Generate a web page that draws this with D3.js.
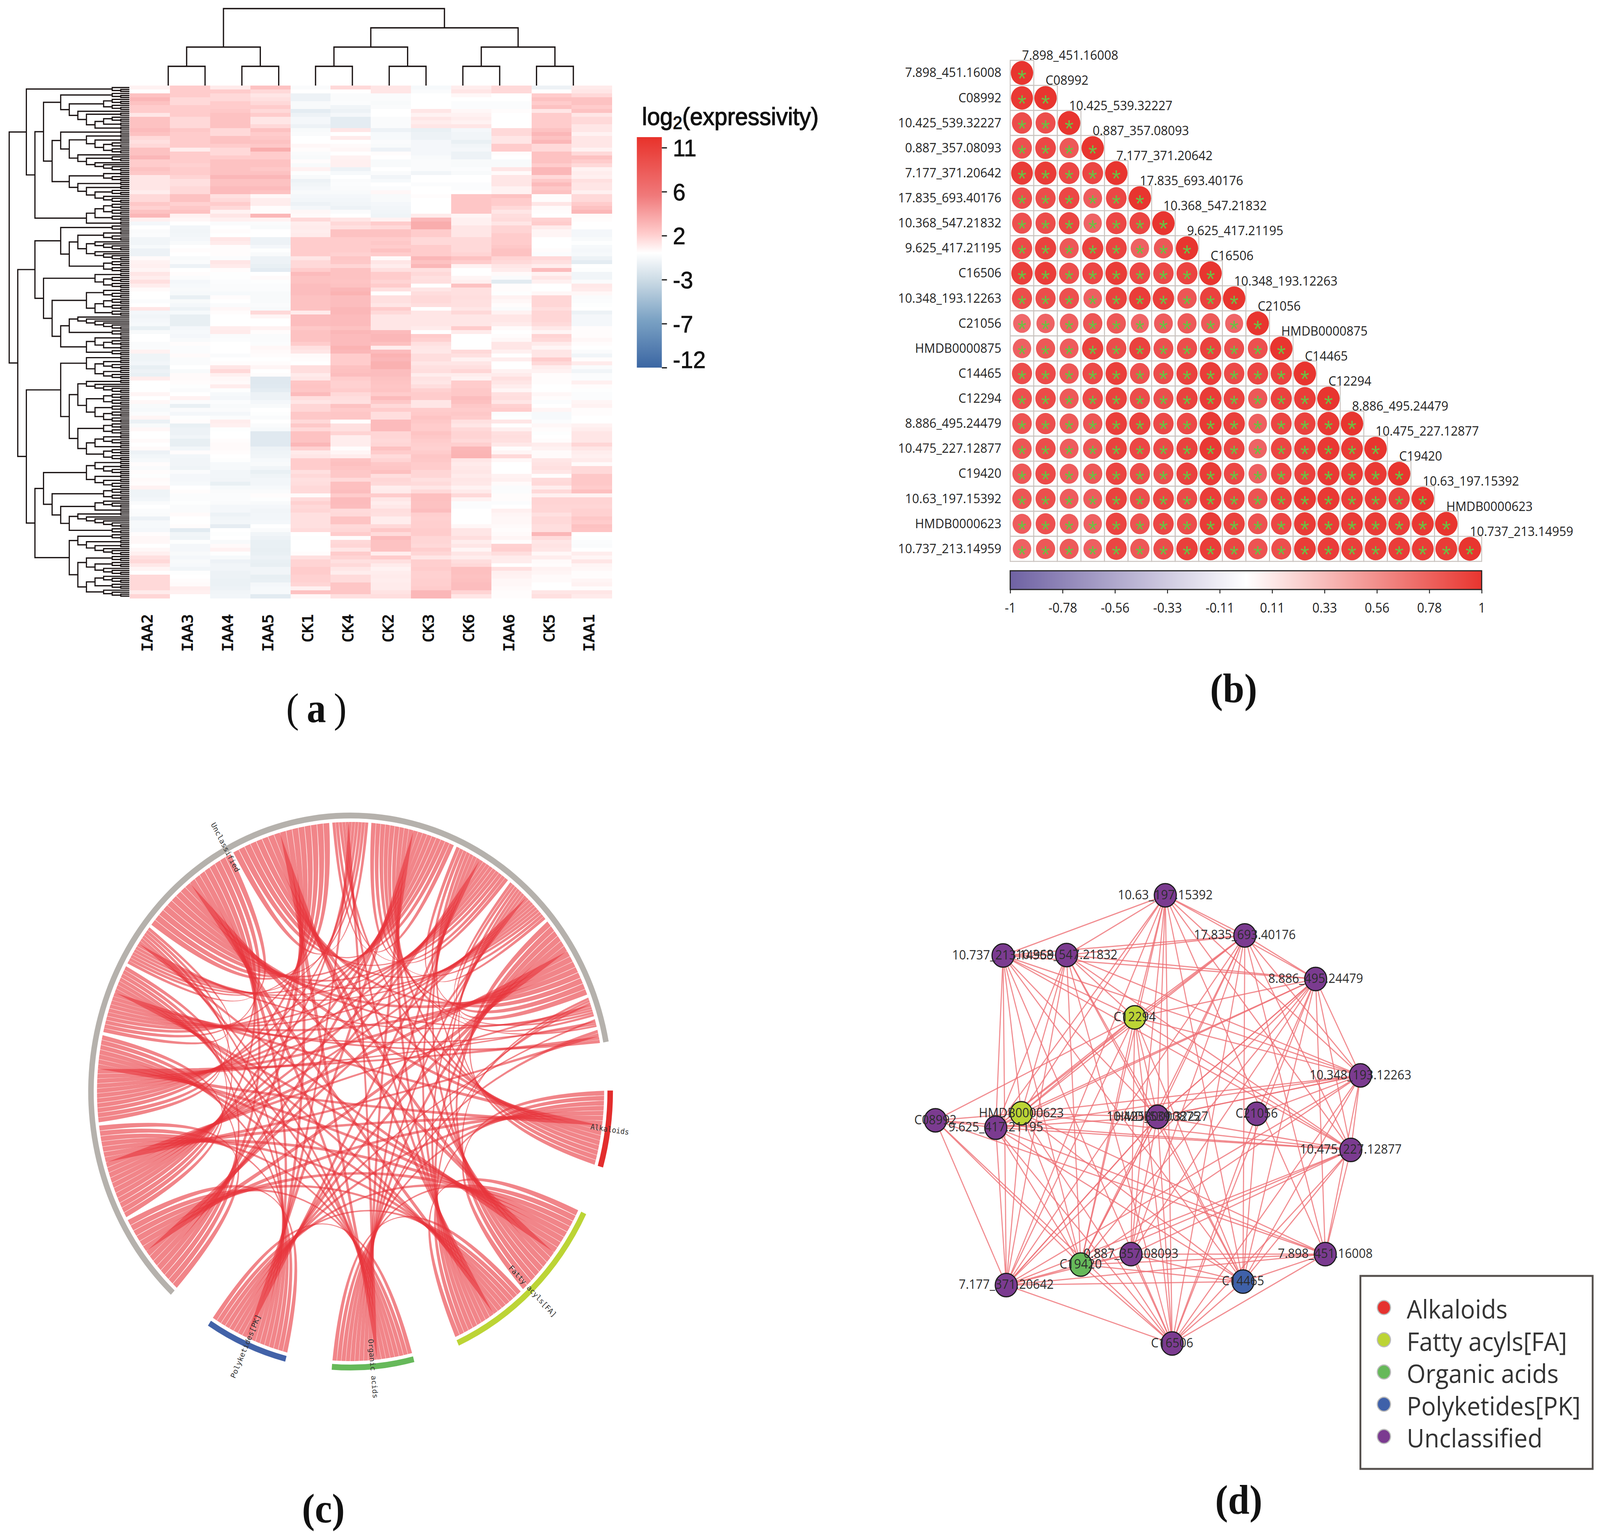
<!DOCTYPE html>
<html>
<head>
<meta charset="utf-8">
<script src="https://cdn.jsdelivr.net/npm/d3@7"></script>
<style>
  html, body { margin: 0; background: #fff; overflow: hidden; }
  svg { display: block; width: 100vw; height: 100vh; }
</style>
</head>
<body>
<svg viewBox="0 0 4354 3942" preserveAspectRatio="none"></svg>
<script>
// (a) heatmap data
var heatColumns = ["IAA2","IAA3","IAA4","IAA5","CK1","CK4","CK2","CK3","CK6","IAA6","CK5","IAA1"];
var heatValues = [
[.5,2,.8,2.5,-.3,1.5,1,-.5,.7,1.5,-1,.8],[0,2,2,1.5,0,0,1,-.3,1,1.5,0,1],[2.5,2,1.5,1,-1,-.3,-.3,0,.3,0,2,1.5],
[3,1.5,1.5,1.2,-1,-.3,-.3,0,0,0,2.5,2.5],[2.5,1.5,2,1.5,-.4,-.2,-.4,0,-.2,-.2,2,2.5],[2,2,2,2,-.4,-.8,-.3,0,-.2,-.2,2.5,2],
[2,2,2.2,1.5,-1.5,-1,0,1,.3,.1,1,2.5],[1,2,2.5,2,-1,-.6,0,.5,.5,0,2,1],[2.5,1.5,2.5,1,-.6,-1.5,-.3,1,.7,0,2,1.5],
[2.5,1.5,2.5,1,-.6,-1.5,-.3,.7,.5,0,2,1.5],[2.5,1.5,2.5,1.5,-1,-1.5,-.3,1,1,0,2,1],[2.8,2.2,1.5,2.5,-.4,1,-1,-1.2,-.6,1.5,2.5,1],
[2.5,2,1.5,2,-.3,0,-.5,-1,-.8,1.5,3,.5],[1.5,2,2.5,2.2,0,.8,-.5,-1,-.8,1,2.5,1],[1.2,2,2.5,2.5,0,0,-.3,-.6,-1.2,1,3,1],
[1.5,2,2,2.2,.3,.2,-.4,-.6,-.8,2,1.5,1],[2.5,.7,1.5,3.5,.1,.3,-1,-.6,-.6,2,1.5,.5],[2.5,2,1.5,2,-.3,0,.1,-.6,-1,.1,2.5,1.5],
[3,2,2,2,-.4,.5,0,-.4,-1,0,2.5,2.5],[2,2,2.5,2.5,.1,.6,-.4,-.3,-.4,-.4,2.5,2],[2,1.8,2.5,2.5,-.4,.6,-.4,-.3,-.4,-.4,2,1.5],
[2.5,2,2.5,2.2,.5,-1,0,-.3,-.2,1,3,.5],[2.2,2,2.5,2.5,-.1,-.5,-.3,-.8,-.4,.2,3,.7],[1,1.7,3,3,-.4,0,-.8,0,0,1,1.5,.6],
[1,1.2,2.5,2.5,-1,-.3,-.5,0,0,1,2.2,1.2],[1,1.2,2.5,2.5,-.8,-.2,0,-.2,-.2,1,2.8,1],[1,1.5,2.8,2.8,-.6,-.3,-.2,0,-.2,.5,2.2,1],
[.7,1.5,2.8,2.5,-.4,-.4,.3,0,0,.5,2.5,.6],[1.5,2.5,1.2,.3,-.6,-.6,-.4,.1,2.3,2.5,.1,1.5],[1.5,2.5,1.5,.7,-.7,-.7,-.4,0,2.3,2,.1,1.5],
[2.2,1.8,2,.7,-1,-.8,-.6,0,2.3,2,1,2],[1.8,2.2,1.5,.1,-.6,-1,-.7,0,2.3,1.5,.2,2.5],[2.5,2.5,.5,.1,.3,-.3,-.8,0,2.3,1,.1,3],
[3,.5,1,3,.2,0,-.9,.8,.4,1.3,0,.2],[.6,.3,.6,.5,1.5,1,.5,3,.6,1.4,1.8,.1],[-.6,0,-.3,-.3,.7,1.5,2,3.5,.6,1,2,0],
[0,-.7,0,-.4,.8,1.2,1.5,3.5,1,1.7,.8,0],[-.3,-.8,.1,0,.7,2.5,2.5,2,1,1.7,.4,-.6],[-.2,-.7,0,0,.8,2.5,2.5,2,1,2,.4,-.6],
[-.8,-.6,1,-1,2,2,2,1.5,1.5,2,0,-.4],[-.8,-.4,.8,-1,2,2,2.2,1.5,1.5,2,0,-.1],[-.5,0,.1,-.6,2,2,2,2,1.5,2.2,0,-.5],
[-1,.1,.1,-.1,2,2,2.5,2,1.5,2.5,.1,-.6],[-1,0,.1,-.4,2,1.8,2,2,1.7,2.5,-.2,-.5],[.2,-.4,-.2,-1,1,2.3,.2,3,2.5,1.7,1.5,-1],
[.5,-.3,1,-1,1.5,2.2,1,2.5,2,1.5,1.2,-1.5],[.6,-1,.8,-1.2,1.5,1.6,.7,3,.5,1,.7,0],[.4,0,.1,-1.5,2,2.5,1.2,1.2,0,.8,2.8,-.1],
[1,.1,-.1,0,2.8,2.5,2,1.5,0,.2,.5,-.8],[.7,-.2,-.1,.2,2.5,2.5,2,1.2,.4,-.3,1,-.8],[1.2,-.6,-.2,-.1,2.5,2.4,1.7,1.3,.6,-1.6,.6,-.3],
[.7,-.5,-.3,-.2,2.7,2.5,2,0,2.5,.1,0,.9],[.2,-.4,-.3,-.2,2.7,3,1.2,1,1.2,.1,0,.8],[0,-.5,-.5,-.4,2.7,3.2,0,1.3,1.2,-.1,.3,.3],
[0,-1.2,.1,-.4,2.5,2.7,1.2,1.5,1.3,.5,1.6,-.3],[-.2,-.4,0,-.4,2.5,2.7,1.2,1.5,1.2,.3,1.6,-.2],[0,-.6,-.3,-.3,2.5,2.7,1,1.3,1.2,.1,1.6,-.1],
[1,-1,.3,-.4,2.5,3,2,0,1,-.3,1.3,0],[-.6,-.5,.1,1.5,.8,3,1.5,1,1.5,.5,1.6,-1],[-.8,-1.3,0,.4,2.7,2.8,1,1,1,1,1.6,-.6],
[-.6,-1.3,0,0,2.7,2.8,1,1,1,1,1.6,-.6],[-.5,-1.3,0,0,2.7,2.8,1,1,1,.8,1.4,-.6],[-1.2,-.6,.7,.5,2.2,2.5,1,.8,2,.2,.9,.1],
[-.4,-.5,.8,.1,2.5,3,2.8,0,.8,0,.4,.1],[0,-.6,-.3,-.3,2.5,2.8,3,2,0,.1,1.7,.1],[0,-.4,-.2,-.3,2.5,2.8,3,1.8,0,.3,1.5,.3],
[-.3,.1,0,-.2,2,2.8,2.6,1.2,0,1,.8,.1],[-.3,-.2,0,.3,1.2,3.2,.7,1,0,1,.4,0],[.5,-.2,0,.2,1,3,2.8,.9,1.5,.6,1,-.3],
[-.9,.2,-.3,.1,.2,2,3.2,1.3,1.2,0,1,-.8],[-.9,-.3,0,0,.1,2,3,1.3,.5,.7,2,.1],[-.7,-.3,.1,.1,0,2,3.3,1,1,0,1.5,.8],
[-1.3,0,1,.4,1.3,2.5,3.3,1.2,1.2,0,.7,-.3],[-1,-.4,1.5,0,1.3,2.6,2.7,1.3,1.6,.5,.5,-.8],[-1.2,.2,.6,.1,.8,2.7,2.7,.7,.7,.8,.1,-.2],
[.7,.2,.3,-1.8,1,2,2.5,1.1,.5,1.2,.1,-.2],[0,.1,.2,-1.8,2.3,1.8,2.4,1,2,1,.1,.6],[0,-.1,.7,-1.7,2.4,1.8,2.3,1.3,2,.7,0,.1],
[0,-.3,-.1,-1.5,2.3,2,2.4,1.8,2.2,.4,0,-.1],[.4,0,-.5,-1,2.8,1.5,2,2,2.2,1.2,.3,-.2],[0,.5,-.6,-1,1.3,1.3,2.8,2,2.7,1.3,.1,-.2],
[.3,-.2,-.2,-.6,1,1.2,2.2,1,2.6,1,-.2,.4],[-.4,-1.2,-.4,-.4,1.6,2.5,1.5,1,2.2,1.8,0,.5],[-.5,-.3,-.3,0,1.6,2.1,2,2,2,2,.4,.1],
[-.2,-.6,-.6,-.1,2.2,2.3,1.3,2.1,2.2,-.2,-.5,.1],[.4,-.1,-.2,-.3,2.2,2.3,1.3,2.4,2,-.1,-.5,0],[-1.1,.1,.7,0,1.5,0,2.8,2.2,1.2,1,-.2,0],
[-.4,-1.2,.6,-.3,2.2,1.2,2.8,2,1,0,.3,.5],[.3,-1,-.1,-.5,1.5,1.2,2.8,2,1.5,.6,.1,.7],[0,-1,0,-1.7,2.5,1.7,1.6,2.4,1.7,1.2,-.1,1],
[0,-.8,0,-1.7,2.5,.7,1.6,2.2,1.7,1.3,0,1],[.2,-1.3,.1,-1.7,2.5,.7,1.5,2,1.5,1.2,.1,1],[0,-1.3,.2,-1.7,3,.7,1.6,1.9,1.9,.9,.7,1.6],
[.2,-.7,.2,-1,1.8,.1,2.5,1.8,3,.1,.5,1],[-1,.1,.1,-.9,.8,.4,2,2,3.1,.4,.2,.7],[-.7,-.7,0,-.8,1,.7,1.4,2.3,3.2,1.5,.2,.6],
[-.5,-.8,-.1,-.5,2,2.5,1.7,2.2,1,.3,1,.8],[.1,-.8,-.5,-.4,2,2.6,2.2,2,.8,0,1.1,.2],[-.3,-.9,-.5,-.8,2,2.4,2.3,2,.9,0,1.2,1.5],
[.1,-.3,-.7,-1.2,1.2,2.2,2.6,1.6,1,0,1,1.5],[-.1,-.6,-.7,-.9,1.5,2.2,1.3,1.6,.8,.5,.1,2.2],[.2,-.6,-.8,-.7,1.2,1.5,1.6,1.2,1,.6,1.4,2.2],
[.1,-.5,-1.2,-.7,1.3,2.6,1.5,1.4,.9,.2,1.5,2.2],[.5,0,-.5,-.5,1.5,2.6,.7,1,.5,-.3,.7,2],[-.9,.1,-.3,-.3,1.5,2.7,.8,1.5,.8,-.2,1.5,2.6],
[-.9,-.2,-.2,.1,.2,2,2,2.6,1.5,.1,.6,.5],[-.7,-.2,-.2,-.1,1.4,2.8,1,2.6,.5,.1,1.7,1.7],[-.3,-.1,-.3,-.4,1.8,2.8,.7,2.5,-.2,-.2,1.7,1.7],
[0,-.3,-.6,-.6,1.5,2.7,.9,2.5,-.2,0,1.6,1.6],[-.2,-.3,-.6,-.8,1.6,1.4,1.3,2.7,0,.6,1.6,1.8],[-.3,.2,-1,-.7,1.2,1.5,1.2,1.9,0,.4,1.2,1.8],
[-1,0,-.8,-.7,1.2,2.4,.7,1.8,0,.3,1.5,2.2],[-.5,0,-.7,-.6,1.2,2.4,.7,1.9,0,.3,1.5,2],[-.5,.1,-1.4,0,1.2,1.5,1.5,1.9,.3,.2,1.3,2.5],
[-.6,-1.6,0,-.3,1.4,1.6,2.2,2,1,.1,1.3,2.4],[.1,-.8,-.1,-.8,0,2,1.4,2,1,.2,3,0],[.3,-.9,0,-1,-.1,.1,2.8,1.6,1.3,.4,1.4,-.1],
[.3,-.1,-.4,-1.2,0,1.5,2.5,1.6,.7,.1,1,-.2],[0,-.6,.2,-1.2,0,1.6,2.5,1.5,1,1.8,1.1,-.3],[.3,-.6,.5,-1.3,0,1,2.5,1.9,.4,1.9,1,0],
[.6,-.4,-.1,-1.2,.1,2,.7,1.6,1,1.3,.3,.7],[1.2,-.6,-.5,-1,1.2,1.7,2,1,.7,.8,.7,.4],[1.5,-.4,-1,-1.2,1.7,1.2,1.2,1.9,1.3,.7,.2,1],
[.9,-.5,-.8,-1.3,1.7,1.5,.8,1.9,1.5,0,.1,.4],[.4,-.8,-.8,-.8,2,1,.5,2,2.6,1.2,.5,.3],[0,-.1,-1,-.8,2,.7,.7,1.8,2.6,.6,.4,.1],
[1.5,0,-1,-1.3,1.8,1.4,.8,1.8,2.5,.5,.2,.1],[1.5,.1,-1.1,-1.2,1.8,1.4,.7,1.9,2.6,.3,.2,.4],[1.5,.2,-1.1,-.6,1.6,2.3,.8,1.9,2.7,.3,0,.5],
[1.5,.7,-1,-.5,.6,2.3,.8,2,2.7,.2,0,.1],[.8,.6,-.8,-.5,2.5,2.3,1.1,3,1.7,.1,1,1],[1.6,0,-.7,-1.6,.3,1.2,1.3,3,1,.1,1.2,.8]
];
var heatStops = [-12,-7,-3,0,2,6,12];
var heatStopColors = ["#3b66a3","#7ba2c4","#c9d9e4","#ffffff","#ffcccc","#f0797a","#e8332c"];
var heatBarTicks = [11,6.4,1.8,-2.8,-7.4,-12];
var heatBarLabels = ["11","6","2","-3","-7","-12"];

// column tree of the heatmap
var columnTree = [[["IAA2","IAA3"],["IAA4","IAA5"]],[[["CK1","CK4"],["CK2","CK3"]],[["CK6","IAA6"],["CK5","IAA1"]]]];

// row tree of the heatmap: x is one metabolite, p and t are the small end forks
var x = 0, p = [x,x], t = [x,p];
var treeA1 = [t,[[t,t],[x,[p,[[t,p],p]]]]];
var treeA2 = [[p,[[p,[p,[t,t]]],[x,[t,[x,[x,t]]]]]],[[p,t],[p,[p,[t,[x,t]]]]]];
var treeA = [t,[[treeA1,treeA2],[[[t,t],t],p]]];
var treeC1 = [t,[[[p,t],[[x,[x,t]],[x,[x,t]]]],[t,t]]];
var treeC2 = [[p,[t,t]],[[[p,t],[[t,t],t]],[[[x,[x,[x,[x,t]]]],t],[[p,[t,p]],t]]]];
var treeD1 = [[p,[[p,t],[p,t]]],[[[p,[x,[x,t]]],[[t,t],[t,[t,t]]]],[[t,t],[[[p,t],p],[t,t]]]]];
var treeD2 = [[[[p,[p,t]],[p,[p,t]]],[[t,t],[[[x,t],p],[[p,[x,[x,[x,t]]]],t]]]],
              [[t,[p,[p,[x,t]]]],[[t,[t,[x,t]]],[[[x,t],t],[x,t]]]]];
var rowTree = [treeA,[[treeC1,treeC2],[treeD1,treeD2]]];

// (b) correlation matrix, lower triangle
var corrNames = ["7.898_451.16008","C08992","10.425_539.32227","0.887_357.08093","7.177_371.20642","17.835_693.40176","10.368_547.21832","9.625_417.21195","C16506","10.348_193.12263","C21056","HMDB0000875","C14465","C12294","8.886_495.24479","10.475_227.12877","C19420","10.63_197.15392","HMDB0000623","10.737_213.14959"];
var corrValues = [
[1],
[.95,1],
[.72,.7,1],
[.68,.78,.6,1],
[.92,.92,.78,.8,1],
[.72,.72,.78,.55,.78,1],
[.68,.72,.8,.48,.78,.8,1],
[.75,.85,.6,.85,.82,.5,.6,1],
[.88,.9,.7,.78,.92,.78,.75,.82,1],
[.72,.72,.68,.52,.85,.9,.88,.62,.85,1],
[.42,.48,.52,.62,.6,.45,.55,.58,.58,.45,1],
[.5,.6,.55,.85,.72,.85,.68,.72,.85,.7,.68,1],
[.72,.75,.6,.75,.88,.68,.72,.85,.9,.75,.8,.85,1],
[.68,.75,.58,.75,.85,.72,.7,.85,.92,.82,.6,.85,.9,1],
[.65,.7,.58,.62,.88,.85,.75,.75,.95,.88,.52,.8,.85,.95,1],
[.62,.72,.55,.62,.85,.78,.75,.85,.95,.8,.48,.8,.88,.95,.92,1],
[.6,.75,.55,.6,.82,.72,.7,.85,.92,.78,.5,.78,.85,.95,.92,.95,1],
[.62,.7,.55,.55,.85,.7,.8,.75,.9,.82,.65,.85,.95,.95,.9,.9,.85,1],
[.55,.68,.55,.5,.82,.65,.78,.72,.92,.85,.65,.78,.92,.92,.92,.92,.9,.95,1],
[.5,.6,.58,.52,.8,.6,.72,.88,.9,.8,.65,.7,.92,.9,.88,.9,.9,.92,.92,1]
];
var corrTickLabels = ["-1","-0.78","-0.56","-0.33","-0.11","0.11","0.33","0.56","0.78","1"];

// (d) network nodes, edges and their classes
var classNames = ["Alkaloids","Fatty acyls[FA]","Organic acids","Polyketides[PK]","Unclassified"];
var classColors = ["#e5322f","#bcd435","#66b95a","#3f61a9","#7b3b90"];
var nodeNames = ["10.63_197.15392","17.835_693.40176","8.886_495.24479","10.348_193.12263","10.475_227.12877","7.898_451.16008","C16506","C14465","7.177_371.20642","C19420","0.887_357.08093","C08992","9.625_417.21195","HMDB0000623","10.737_213.14959","10.368_547.21832","C12294","10.425_539.32227","HMDB0000875","C21056"];
var nodeClass = [4,4,4,4,4,4,4,3,4,2,4,4,4,1,4,4,1,0,4,4];
var nodeX = [620,794,949,1047,1026,970,635,790,272,435,545,117,249,305,265,404,553,603,603,820];
var nodeY = [127,219,319,540,711,950,1155,1013,1021,974,950,643,660,627,265,264,407,635,635,628];
var edges = [
[0,1],[0,2],[0,3],[0,4],[0,5],[0,6],[0,7],[0,8],[0,9],[0,10],[0,12],[0,13],[0,14],[0,15],[0,16],[0,17],
[1,2],[1,3],[1,4],[1,5],[1,6],[1,7],[1,8],[1,9],[1,10],[1,12],[1,13],[1,14],[1,15],[1,16],[1,17],
[2,3],[2,4],[2,5],[2,6],[2,7],[2,8],[2,9],[2,10],[2,12],[2,13],[2,14],[2,15],[2,16],[2,17],[2,18],[2,19],
[3,4],[3,5],[3,6],[3,7],[3,8],[3,9],[3,12],[3,13],[3,14],[3,15],[3,16],[3,17],[3,18],[3,19],
[4,5],[4,6],[4,7],[4,8],[4,9],[4,10],[4,11],[4,12],[4,13],[4,14],[4,15],[4,16],[4,17],
[5,6],[5,7],[5,8],[5,9],[5,10],[5,11],[5,12],[5,13],
[6,7],[6,8],[6,9],[6,10],[6,11],[6,12],[6,13],[6,14],[6,15],[6,16],[6,17],[6,19],
[7,8],[7,9],[7,10],[7,12],[7,13],[7,14],[7,15],[7,16],[7,17],[7,19],
[8,9],[8,10],[8,11],[8,12],[8,13],[8,14],[8,15],[8,16],[8,17],[8,18],
[9,10],[9,11],[9,12],[9,13],[9,14],[9,15],[9,16],[9,17],[9,18],
[10,16],[10,17],[11,12],[11,13],[11,16],
[12,13],[12,14],[12,15],[12,16],[12,17],
[13,14],[13,15],[13,16],[13,17],[14,15],[14,16],[14,17],[15,16],[15,17],[16,17]
];

// (c) chord sectors in ring order, sizes in degrees
var sectorNode = [17,13,16,9,7,14,8,2,3,5,4,0,10,6,1,12,15,11,19,18];
var sectorSize = [16,21.1,17.8,18.2,18.5,18.3,20.6,18.7,15,9.2,23.6,22.8,8.2,19.4,13.7,11.2,18.1,4.2,1.7,2.9];
var ringStart = 89.8, sectorGap = 0.63, classGap = 10.3;

var svg = d3.select("svg");
svg.append("rect").attr("width", 4354).attr("height", 3942).attr("fill", "#fff");

// ---------- (a) ----------
var heatX = d3.scaleBand().domain(heatColumns).range([353, 1665]);
var heatY = d3.scaleBand().domain(d3.range(heatValues.length)).range([219, 1531]);
var heatColor = d3.scaleLinear().domain(heatStops).range(heatStopColors);

var heat = svg.append("g").attr("shape-rendering", "crispEdges");
heatValues.forEach(function(row, i) {
  heat.selectAll(".r" + i)
    .data(row)
    .enter()
    .append("rect")
    .attr("x", (d, j) => heatX(heatColumns[j]))
    .attr("y", heatY(i))
    .attr("width", heatX.bandwidth() + 0.5)
    .attr("height", heatY.bandwidth() + 0.5)
    .attr("fill", d => heatColor(d));
});

function kids(d) { return Array.isArray(d) ? d : null; }

// left tree, the x position is the node height in levels
var rowRoot = d3.hierarchy(rowTree, kids);
var leafCount = rowRoot.leaves().length;
var leafStep = 1312 / leafCount;
d3.cluster().separation(() => 1).size([1312 - leafStep, 1])(rowRoot);
var levelX = d3.scaleLinear().domain([0, 14]).range([352, 25]);
var leftTree = svg.append("g").attr("fill", "none").attr("stroke", "#1a1313").attr("stroke-width", 3.2);
rowRoot.descendants().filter(n => n.children).forEach(function(n) {
  var a = n.children[0], b = n.children[n.children.length - 1];
  var ya = 219 + leafStep / 2 + a.x, yb = 219 + leafStep / 2 + b.x;
  leftTree.append("path").attr("d",
    "M" + levelX(a.height) + "," + ya + "L" + levelX(n.height) + "," + ya +
    "L" + levelX(n.height) + "," + yb + "L" + levelX(b.height) + "," + yb);
});

// top tree
var colRoot = d3.hierarchy(columnTree, kids);
d3.cluster().separation(() => 1).size([1312 - heatX.bandwidth(), 1])(colRoot);
var topLevel = d3.scaleLinear().domain([0, 4]).range([219, 22]);
var topTree = svg.append("g").attr("fill", "none").attr("stroke", "#1a1313").attr("stroke-width", 3.4);
colRoot.descendants().filter(n => n.children).forEach(function(n) {
  var a = n.children[0], b = n.children[1];
  var xa = 353 + heatX.bandwidth() / 2 + a.x, xb = 353 + heatX.bandwidth() / 2 + b.x;
  topTree.append("path").attr("d",
    "M" + xa + "," + topLevel(a.height) + "L" + xa + "," + topLevel(n.height) +
    "L" + xb + "," + topLevel(n.height) + "L" + xb + "," + topLevel(b.height));
});

svg.selectAll(".heatLabel")
  .data(heatColumns)
  .enter()
  .append("text")
  .attr("transform", d => "translate(" + (heatX(d) + heatX.bandwidth() / 2 - 7) + ",1572) rotate(-90)")
  .attr("text-anchor", "end")
  .attr("dominant-baseline", "central")
  .attr("font-family", "DejaVu Sans Mono")
  .attr("font-size", 40)
  .attr("fill", "#111")
  .attr("stroke", "#111")
  .attr("stroke-width", 1.6)
  .text(d => d);

// colour bar of (a)
var barScale = d3.scaleLinear().domain([11, -12]).range([378, 941]);
var defs = svg.append("defs");
var gradA = defs.append("linearGradient").attr("id", "gradA").attr("x1", 0).attr("x2", 0).attr("y1", 0).attr("y2", 1);
heatStops.slice().reverse().forEach(function(v) {
  gradA.append("stop")
    .attr("offset", (barScale(v) - 351) / (941 - 351))
    .attr("stop-color", heatColor(v));
});
svg.append("rect").attr("x", 1733).attr("y", 351).attr("width", 68).attr("height", 590).attr("fill", "url(#gradA)");
var barAxis = svg.append("g")
  .attr("transform", "translate(1801,0)")
  .call(d3.axisRight(barScale).tickValues(heatBarTicks).tickSize(14).tickFormat((d, i) => heatBarLabels[i]));
barAxis.select(".domain").remove();
barAxis.selectAll("line").attr("stroke", "#111").attr("stroke-width", 3);
barAxis.selectAll("text")
  .attr("x", 30)
  .attr("dy", (d, i) => i == 5 ? "0em" : "0.35em")
  .attr("font-family", "Liberation Sans")
  .attr("font-size", 62)
  .attr("stroke", "#111")
  .attr("stroke-width", 1)
  .attr("fill", "#111");

var titleA = svg.append("text").attr("x", 1747).attr("y", 320)
  .attr("font-family", "Liberation Sans").attr("font-size", 63).attr("fill", "#111")
  .attr("stroke", "#111").attr("stroke-width", 1.6);
titleA.append("tspan").text("log");
titleA.append("tspan").attr("font-size", 46).attr("dy", 10).text("2");
titleA.append("tspan").attr("dy", -10).text("(expressivity)");

// ---------- (b) ----------
var corrX = d3.scaleBand().domain(corrNames).range([2749, 4032]);
var corrY = d3.scaleBand().domain(corrNames).range([154.5, 1437]);
var corrColor = d3.scaleLinear().domain([-1, 0, 1]).range(["#6f62a3", "#ffffff", "#e8352f"]);
var corrSize = d3.scaleLinear().domain([0.4, 1]).range([24, 30.5]);
// weak values fade quicker in the dots than in the bar
var corrDot = d3.scaleLinear().domain([0.4, 0.75, 1]).range(["#ef6a6c", "#ec4a48", "#e8352f"]);

var corrCells = [];
corrValues.forEach(function(row, i) {
  row.forEach(function(v, j) { corrCells.push({row: i, col: j, value: v}); });
});
svg.selectAll(".corrCell")
  .data(corrCells)
  .enter()
  .append("rect")
  .attr("x", d => corrX(corrNames[d.col]))
  .attr("y", d => corrY(corrNames[d.row]))
  .attr("width", corrX.bandwidth())
  .attr("height", corrY.bandwidth())
  .attr("fill", "#fff")
  .attr("stroke", "#c9c3bf")
  .attr("stroke-width", 2.5);
svg.selectAll(".corrDot")
  .data(corrCells)
  .enter()
  .append("circle")
  .attr("cx", d => corrX(corrNames[d.col]) + corrX.bandwidth() / 2)
  .attr("cy", d => corrY(corrNames[d.row]) + corrY.bandwidth() / 2)
  .attr("r", d => corrSize(d.value))
  .attr("fill", d => corrDot(d.value));
svg.selectAll(".corrStar")
  .data(corrCells)
  .enter()
  .append("text")
  .attr("x", d => corrX(corrNames[d.col]) + corrX.bandwidth() / 2)
  .attr("y", d => corrY(corrNames[d.row]) + corrY.bandwidth() / 2 + 35)
  .attr("text-anchor", "middle")
  .attr("font-family", "Liberation Sans")
  .attr("font-size", 62)
  .attr("fill", "#6cc043")
  .text("*");
svg.selectAll(".corrLeft")
  .data(corrNames)
  .enter()
  .append("text")
  .attr("x", 2725)
  .attr("y", d => corrY(d) + corrY.bandwidth() / 2 - 2)
  .attr("text-anchor", "end")
  .attr("dominant-baseline", "central")
  .attr("font-family", "Open Sans")
  .attr("font-size", 33.5)
  .attr("fill", "#222")
  .text(d => d);
svg.selectAll(".corrTop")
  .data(corrNames)
  .enter()
  .append("text")
  .attr("x", d => corrX(d) + corrX.bandwidth() / 2)
  .attr("y", d => corrY(d) - 14)
  .attr("dominant-baseline", "central")
  .attr("font-family", "Open Sans")
  .attr("font-size", 33.5)
  .attr("fill", "#222")
  .text(d => d);

var gradB = defs.append("linearGradient").attr("id", "gradB");
[-1, 0, 1].forEach(function(v) {
  gradB.append("stop").attr("offset", (v + 1) / 2).attr("stop-color", corrColor(v));
});
svg.append("rect").attr("x", 2749).attr("y", 1461).attr("width", 1283).attr("height", 48)
  .attr("fill", "url(#gradB)").attr("stroke", "#222").attr("stroke-width", 3);
var corrBar = d3.scalePoint().domain(corrTickLabels).range([2749, 4032]);
var corrAxis = svg.append("g").attr("transform", "translate(0,1509)").call(d3.axisBottom(corrBar).tickSize(10));
corrAxis.select(".domain").remove();
corrAxis.selectAll("line").attr("stroke", "#222").attr("stroke-width", 2.5);
corrAxis.selectAll("text")
  .attr("y", 35)
  .attr("font-family", "Open Sans")
  .attr("font-size", 34)
  .attr("fill", "#222");

// ---------- (c) ----------
var chordG = svg.append("g").attr("transform", "translate(954,2794)");
var degToRad = d3.scaleLinear().domain([0, 360]).range([0, 2 * Math.PI]);

// walk round the ring, a wide gap where the class changes
var sectors = [], angle = ringStart;
sectorNode.forEach(function(n, i) {
  var s = {node: n, index: i, start: angle, end: angle + sectorSize[i], links: []};
  sectors.push(s);
  var next = sectorNode[(i + 1) % sectorNode.length];
  angle = s.end + (nodeClass[next] == nodeClass[n] ? sectorGap : classGap);
});
var sectorOf = {};
sectors.forEach(s => sectorOf[s.node] = s);

edges.forEach(function(e) {
  sectorOf[e[0]].links.push(e[1]);
  sectorOf[e[1]].links.push(e[0]);
});
var linkEnd = {};
sectors.forEach(function(s) {
  // nearest clockwise partner first, so a sector's ribbons all cross near the rim
  s.links.sort((a, b) =>
    ((sectorOf[a].index - s.index + 20) % 20) - ((sectorOf[b].index - s.index + 20) % 20));
  var step = (s.end - s.start) / s.links.length;
  s.links.forEach(function(other, k) {
    linkEnd[s.node + "-" + other] = {
      start: s.start + k * step + step * 0.03,
      end: s.start + (k + 1) * step - step * 0.03
    };
  });
});

// ribbon with the bend point on the bisector, not at the centre as in d3.ribbon
var ribbonR = 690, bendR = 55;
function polar(r, deg) {
  var a = degToRad(deg) - Math.PI / 2;
  return [r * Math.cos(a), r * Math.sin(a)];
}
function bend(a, b) {
  var ra = degToRad(a), rb = degToRad(b);
  var sx = Math.sin(ra) + Math.sin(rb), sy = -Math.cos(ra) - Math.cos(rb);
  var len = Math.sqrt(sx * sx + sy * sy) || 1;
  return [bendR * sx / len, bendR * sy / len];
}
function chordPath(s, t) {
  var ctx = d3.path(), rad = d => degToRad(d) - Math.PI / 2;
  var p0 = polar(ribbonR, s.start), p1 = polar(ribbonR, t.start);
  ctx.moveTo(p0[0], p0[1]);
  ctx.arc(0, 0, ribbonR, rad(s.start), rad(s.end));
  var c1 = bend(s.end, t.start);
  ctx.quadraticCurveTo(c1[0], c1[1], p1[0], p1[1]);
  ctx.arc(0, 0, ribbonR, rad(t.start), rad(t.end));
  var c2 = bend(t.end, s.start);
  ctx.quadraticCurveTo(c2[0], c2[1], p0[0], p0[1]);
  ctx.closePath();
  return ctx.toString();
}
chordG.append("g")
  .selectAll("path")
  .data(edges)
  .enter()
  .append("path")
  .attr("d", d => chordPath(linkEnd[d[0] + "-" + d[1]], linkEnd[d[1] + "-" + d[0]]))
  .attr("fill", "#e8343a")
  .attr("fill-opacity", 0.6);

var ringArc = d3.arc().innerRadius(699).outerRadius(714);
var ringColors = ["#e32d2d", "#bcd435", "#66b95a", "#4262a8", "#b5b1ac"];
classNames.forEach(function(name, c) {
  var inClass = sectors.filter(s => nodeClass[s.node] == c);
  var a0 = d3.min(inClass, s => s.start), a1 = d3.max(inClass, s => s.end);
  chordG.append("path")
    .attr("d", ringArc({startAngle: degToRad(a0), endAngle: degToRad(a1)}))
    .attr("fill", ringColors[c]);
  var mid = (a0 + a1) / 2;
  var rot = mid < 180 ? mid - 90 : mid + 90;
  var rad = degToRad(mid);
  chordG.append("text")
    .attr("transform", "translate(" + (712 * Math.sin(rad)) + "," + (-712 * Math.cos(rad)) + ") rotate(" + rot + ")")
    .attr("text-anchor", "middle")
    .attr("dominant-baseline", "central")
    .attr("font-family", "DejaVu Sans Mono")
    .attr("font-size", 19.5)
    .attr("fill", "#333")
    .text(name);
});

// ---------- (d) ----------
var netX = d3.scaleLinear().domain([0, 1568]).range([2400, 4350]);
var netY = d3.scaleLinear().domain([0, 1568]).range([2150, 3900]);

svg.append("g")
  .selectAll("line")
  .data(edges)
  .enter()
  .append("line")
  .attr("x1", d => netX(nodeX[d[0]]))
  .attr("y1", d => netY(nodeY[d[0]]))
  .attr("x2", d => netX(nodeX[d[1]]))
  .attr("y2", d => netY(nodeY[d[1]]))
  .attr("stroke", "#ee6f74")
  .attr("stroke-opacity", 0.8)
  .attr("stroke-width", 3);
svg.selectAll(".node")
  .data(nodeNames)
  .enter()
  .append("circle")
  .attr("cx", (d, i) => netX(nodeX[i]))
  .attr("cy", (d, i) => netY(nodeY[i]))
  .attr("r", 30)
  .attr("fill", (d, i) => classColors[nodeClass[i]])
  .attr("stroke", "#1b1b1b")
  .attr("stroke-width", 3);
svg.selectAll(".nodeLabel")
  .data(nodeNames)
  .enter()
  .append("text")
  .attr("x", (d, i) => netX(nodeX[i]))
  .attr("y", (d, i) => netY(nodeY[i]) - 3)
  .attr("text-anchor", "middle")
  .attr("dominant-baseline", "central")
  .attr("font-family", "Open Sans")
  .attr("font-size", 33)
  .attr("fill", "#2c2c2c")
  .text(d => d);

// legend
svg.append("rect").attr("x", 3702).attr("y", 3266).attr("width", 632).attr("height", 494)
  .attr("fill", "#fff").attr("stroke", "#55504d").attr("stroke-width", 5);
var legendY = d3.scalePoint().domain(classNames).range([3347, 3677]);
svg.selectAll(".legendDot")
  .data(classNames)
  .enter()
  .append("circle")
  .attr("cx", 3766)
  .attr("cy", d => legendY(d))
  .attr("r", 18)
  .attr("fill", (d, i) => classColors[i])
  .attr("stroke", "#bbb")
  .attr("stroke-width", 3);
svg.selectAll(".legendText")
  .data(classNames)
  .enter()
  .append("text")
  .attr("x", 3828)
  .attr("y", d => legendY(d) + 3)
  .attr("dominant-baseline", "central")
  .attr("font-family", "Open Sans")
  .attr("font-size", 66)
  .attr("fill", "#333")
  .text(d => d);

// panel letters
var panelLetters = ["a", "b", "c", "d"];
var panelX = [861, 3357, 880, 3371];
var panelY = [1848, 1798, 3897, 3875];
panelLetters.forEach(function(l, i) {
  var txt = svg.append("text")
    .attr("x", panelX[i])
    .attr("y", panelY[i])
    .attr("text-anchor", "middle")
    .attr("font-family", "Liberation Serif")
    .attr("font-size", 105)
    .attr("fill", "#111");
  txt.append("tspan").attr("font-weight", i == 0 ? "normal" : "bold").text(i == 0 ? "\u2009(\u2009" : "(");
  txt.append("tspan").attr("font-weight", "bold").text(l);
  txt.append("tspan").attr("font-weight", i == 0 ? "normal" : "bold").text(i == 0 ? "\u2009)\u2009" : ")");
});
</script>
</body>
</html>
